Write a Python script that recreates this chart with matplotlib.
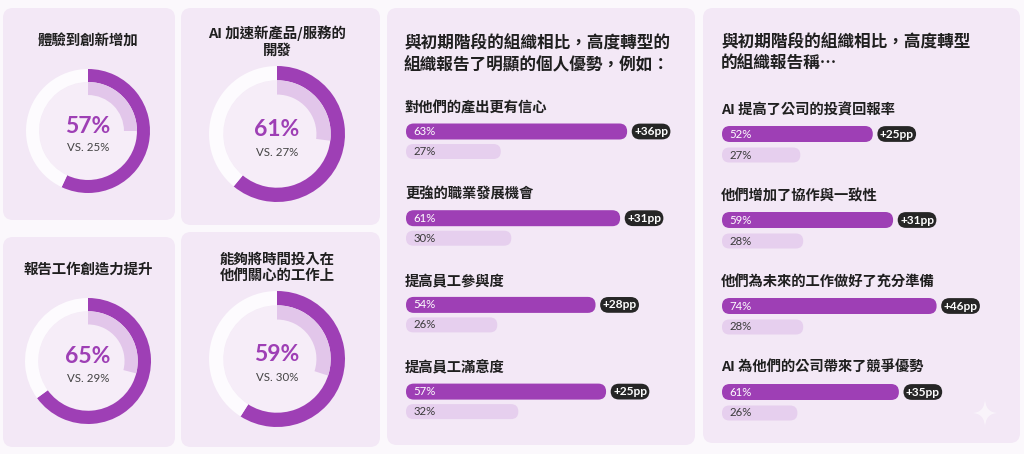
import matplotlib
matplotlib.use("Agg")
import matplotlib.pyplot as plt
from matplotlib.patches import FancyBboxPatch, Circle, PathPatch
from matplotlib.path import Path

W, H = 1024, 454

# donut cards
donut_titles = ["體驗到創新增加", "AI 加速新產品/服務的\n開發",
                "報告工作創造力提升", "能夠將時間投入在\n他們關心的工作上"]
donut_high = [57, 61, 65, 59]
donut_early = [25, 27, 29, 30]

# bar card 1
bars1_title = "與初期階段的組織相比，高度轉型的\n組織報告了明顯的個人優勢，例如："
bars1_labels = ["對他們的產出更有信心", "更強的職業發展機會", "提高員工參與度", "提高員工滿意度"]
bars1_high = [63, 61, 54, 57]
bars1_early = [27, 30, 26, 32]

# bar card 2
bars2_title = "與初期階段的組織相比，高度轉型\n的組織報告稱…"
bars2_labels = ["AI 提高了公司的投資回報率", "他們增加了協作與一致性",
                "他們為未來的工作做好了充分準備", "AI 為他們的公司帶來了競爭優勢"]
bars2_high = [52, 59, 74, 61]
bars2_early = [27, 28, 28, 26]

BG = "#fbf8fc"
CARD = "#f3e8f6"
PURPLE = "#9e3fb5"
LIGHT = "#e2c6ea"
LIGHTBAR = "#e6cfee"
TRACK = "#fdfbfe"
DARK = "#262626"
CJK = ["Noto Sans CJK TC", "DejaVu Sans"]
LAT = ["Lato", "DejaVu Sans"]

fig = plt.figure(figsize=(W / 100, H / 100), dpi=100, facecolor=BG)


def px_axes(x0, y0, x1, y1):
    return fig.add_axes([x0 / W, 1 - y1 / H, (x1 - x0) / W, (y1 - y0) / H])


bg = px_axes(0, 0, W, H)
bg.set_xlim(0, W)
bg.set_ylim(H, 0)
bg.axis("off")

cards = [(3, 8, 175, 220), (181, 8, 380, 225), (3, 237, 175, 447),
         (181, 232, 380, 447), (387, 8, 695, 445), (703, 8, 1020, 443)]
for x0, y0, x1, y1 in cards:
    bg.add_patch(FancyBboxPatch((x0, y0), x1 - x0, y1 - y0,
                                boxstyle="round,pad=0,rounding_size=10",
                                fc=CARD, ec="none"))

# sparkle
sx, sy, sr = 985, 413, 15
verts = [(sx, sy - sr), (sx, sy), (sx + sr * 0.9, sy), (sx, sy), (sx, sy + sr),
         (sx, sy), (sx - sr * 0.9, sy), (sx, sy), (sx, sy - sr)]
codes = [Path.MOVETO] + [Path.CURVE3] * 8
bg.add_patch(PathPatch(Path(verts, codes), fc="white", ec="none", alpha=0.55))

# donuts
donut_pos = [(88, 131, 62, 42), (277, 134, 68, 42), (88, 361, 63, 270), (277, 359, 68, 268)]
for (cx, cy, R, ty), title, hi, lo in zip(donut_pos, donut_titles, donut_high, donut_early):
    bg.text(cx, ty, title, ha="center", va="center", fontsize=10.4, family=CJK,
            color="#1f1f1f", linespacing=1.25, fontweight="bold")
    s = R * 1.05
    ax = px_axes(cx - s, cy - s, cx + s, cy + s)
    ax.add_patch(Circle((0, 0), 0.79, fc="#f6edf8", ec="none"))
    ax.pie([hi, 100 - hi], radius=1, startangle=90, counterclock=False,
           colors=[PURPLE, TRACK], wedgeprops=dict(width=0.21, linewidth=0))
    w2, _ = ax.pie([lo, 100 - lo], radius=0.79, startangle=90, counterclock=False,
                   colors=[LIGHT, CARD], wedgeprops=dict(width=0.21, linewidth=0))
    w2[1].set_visible(False)
    ax.set_xlim(-1.05, 1.05)
    ax.set_ylim(-1.05, 1.05)
    ax.text(0, 0.07, f"{hi}%", ha="center", va="center", fontsize=16.5,
            fontweight="bold", family=LAT, color=PURPLE)
    ax.text(0, -0.27, f"VS. {lo}%", ha="center", va="center", fontsize=8.3,
            family=LAT, color="#444444")


def bar_card(x_start, px100, label0, spacing, b1, b2, title, tx, ty, labels, hi, lo):
    bg.text(tx, ty, title, ha="left", va="center", fontsize=12, family=CJK,
            color="#1f1f1f", linespacing=1.3, fontweight="bold")
    top = label0 - spacing * 0.4
    bottom = label0 + spacing * 3.75
    ax = px_axes(x_start, top, x_start + px100, bottom)
    ax.set_xlim(0, 100)
    ax.set_ylim((bottom - label0) / spacing, (top - label0) / spacing)
    ax.axis("off")
    xpp = 100 / px100
    ypp = 1 / spacing
    asp = ypp / xpp
    for i, (lab, h, l) in enumerate(zip(labels, hi, lo)):
        ax.text(-0.3, i, lab, ha="left", va="center", fontsize=10.3, family=CJK,
                color="#1f1f1f", fontweight="bold")
        for val, off, hpx, col, tc in ((h, b1, 16, PURPLE, "white"),
                                       (l, b2, 15, LIGHTBAR, "#3a3a3a")):
            hh = hpx * ypp
            ax.add_patch(FancyBboxPatch((0, i + off - hh / 2), val, hh,
                                        boxstyle=f"round,pad=0,rounding_size={hpx / 2 * xpp * 0.98}",
                                        mutation_aspect=asp, fc=col, ec="none"))
            ax.annotate(f"{val}%", (0, i + off), xytext=(5.5, 0), textcoords="offset points",
                        ha="left", va="center", fontsize=8.2, family=LAT, color=tc)
        ax.annotate(f"+{h - l}pp", (h, i + b1), xytext=(5, 0), textcoords="offset points",
                    ha="left", va="center", fontsize=8.6, family=LAT, fontweight="bold",
                    color="white",
                    bbox=dict(boxstyle="round,pad=0.2,rounding_size=0.7", fc=DARK, ec="none"))


bar_card(406, 351, 108, 86.7, 23.5 / 86.7, 43.5 / 86.7, bars1_title, 404, 54,
         bars1_labels, bars1_high, bars1_early)
bar_card(722, 290, 110, 86.0, 24 / 86.0, 45 / 86.0, bars2_title, 721, 53,
         bars2_labels, bars2_high, bars2_early)

fig.savefig("out.png", dpi=100, facecolor=BG)
